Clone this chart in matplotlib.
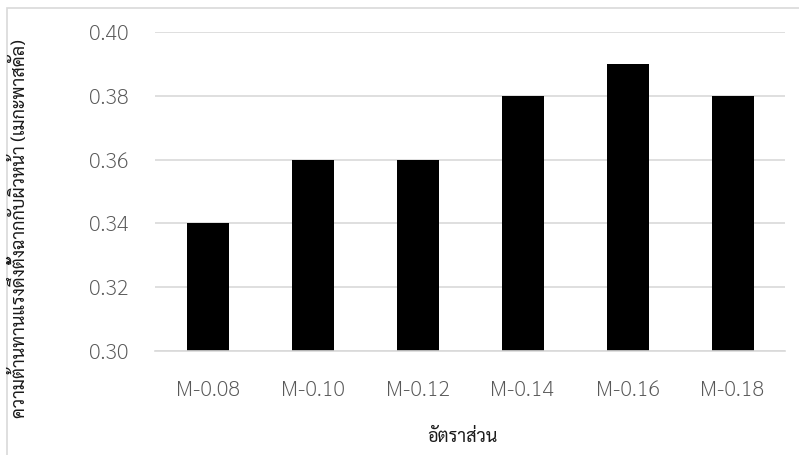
import os
import matplotlib
matplotlib.use("Agg")
import matplotlib.pyplot as plt
from matplotlib import font_manager
from matplotlib.font_manager import FontProperties
from matplotlib.patches import Rectangle

# Data
categories = ["M-0.08", "M-0.10", "M-0.12", "M-0.14", "M-0.16", "M-0.18"]
values = [0.34, 0.36, 0.36, 0.38, 0.39, 0.38]
y_ticks = [0.30, 0.32, 0.34, 0.36, 0.38, 0.40]
x_label = "อัตราส่วน"
y_label = "ความต้านทานแรงดึงตั้งฉากกับผิวหน้า (เมกะพาสคัล)"

# Pick a family that has Thai glyphs
available = {f.name for f in font_manager.fontManager.ttflist}
thai_font = next((n for n in ["Sarabun", "Noto Sans Thai", "Anuphan", "IBM Plex Sans Thai"]
                  if n in available), "DejaVu Sans")
plt.rcParams["font.family"] = [thai_font, "DejaVu Sans"]


def font_file(name, style_suffix):
    """Return the font file of a family whose file name ends in the given style."""
    for f in font_manager.fontManager.ttflist:
        base = os.path.splitext(os.path.basename(f.fname))[0]
        if f.name == name and base.lower().endswith("-" + style_suffix.lower()):
            return f.fname
    return None


regular_path = font_file(thai_font, "Regular")
thin_path = font_file(thai_font, "ExtraLight") or font_file(thai_font, "Light")

W, H, DPI = 799, 455, 100
fig = plt.figure(figsize=(W / DPI, H / DPI), dpi=DPI)

# Plot area in pixel terms
left, right, top, bottom = 155, 785, 32, 351
ax = fig.add_axes([left / W, 1 - bottom / H, (right - left) / W, (bottom - top) / H])

x = range(len(categories))
ax.bar(x, values, width=0.4, color="black", zorder=3)

ax.set_xlim(-0.5, len(categories) - 0.5)
ax.set_ylim(y_ticks[0], y_ticks[-1])
ax.set_yticks(y_ticks)
ax.set_yticklabels([f"{v:.2f}" for v in y_ticks])
ax.set_xticks(list(x))
ax.set_xticklabels(categories)

ax.grid(axis="y", color="#d9d9d9", linewidth=1.2, zorder=0)
for s in ["top", "right", "left"]:
    ax.spines[s].set_visible(False)
ax.spines["bottom"].set_color("#d9d9d9")
ax.spines["bottom"].set_linewidth(1.2)
ax.spines["bottom"].set_zorder(4)

ax.tick_params(axis="both", length=0, labelsize=15.5, colors="#595959")
ax.tick_params(axis="y", pad=19)
ax.tick_params(axis="x", pad=21)
tick_fp = (FontProperties(fname=thin_path, size=15.5) if thin_path
           else FontProperties(family=thai_font, weight="light", size=15.5))
for lbl in ax.get_xticklabels() + ax.get_yticklabels():
    lbl.set_fontproperties(tick_fp)


def label_font(size):
    if regular_path:
        return FontProperties(fname=regular_path, size=size)
    return FontProperties(family=thai_font, weight="normal", size=size)


fig.text(462 / W, 1 - 437 / H, x_label, ha="center", va="center",
         fontproperties=label_font(13), color="#1a1a1a")
fig.text(19 / W, 1 - 229 / H, y_label, ha="center", va="center",
         rotation=90, fontproperties=label_font(13), color="#1a1a1a")

# Chart frame
fig.patches.append(Rectangle((7 / W, -0.05), 1.1, 1 - 8 / H + 0.05,
                             transform=fig.transFigure, fill=False,
                             edgecolor="#d9d9d9", linewidth=1.2))

fig.savefig("out.png", dpi=DPI)
